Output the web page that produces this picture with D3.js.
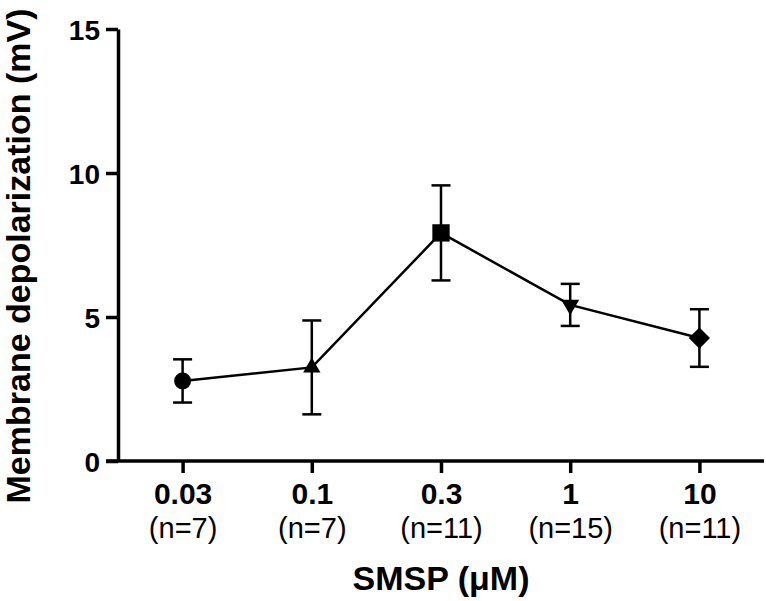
<!DOCTYPE html>
<html>
<head>
<meta charset="utf-8">
<script src="https://cdn.jsdelivr.net/npm/d3@7"></script>
<style>
  body { margin: 0; background: #fff; }
  svg { display: block; font-family: "Liberation Sans", Arial, Helvetica, sans-serif; }
</style>
</head>
<body>
<svg width="766" height="601"></svg>
<script>
// Data
var doses = ['0.03', '0.1', '0.3', '1', '10'];
var n_labels = ['(n=7)', '(n=7)', '(n=11)', '(n=15)', '(n=11)'];
var means = [2.78, 3.25, 7.92, 5.42, 4.27];
var sems = [0.75, 1.63, 1.65, 0.73, 1.0];
var shapes = ['circle', 'triangle', 'square', 'down', 'diamond'];
var y_ticks = [0, 5, 10, 15];

var points = doses.map((d, i) => ({dose: d, n: n_labels[i], mean: means[i], sem: sems[i], shape: shapes[i]}));

var svg = d3.select('svg');

var x = d3.scalePoint().domain(doses).range([118, 764]).padding(0.5);
var y = d3.scaleLinear().domain([0, 15]).range([461, 29]);

// y axis
var gy = svg.append('g')
  .attr('transform', 'translate(118,0)')
  .call(d3.axisLeft(y).tickValues(y_ticks).tickSize(12).tickSizeOuter(0).tickPadding(6));
gy.select('.domain').attr('stroke-width', 3.5);
gy.selectAll('.tick line').attr('stroke-width', 3.5);
gy.selectAll('.tick text')
  .attr('font-size', '28px')
  .attr('font-weight', 'bold')
  .attr('font-family', '"Liberation Sans", Arial, sans-serif')
  .attr('fill', '#000')
  .attr('dy', '0.36em');

// x axis
var gx = svg.append('g')
  .attr('transform', 'translate(0,461)')
  .call(d3.axisBottom(x).tickSize(12).tickSizeOuter(0));
gx.select('.domain').attr('stroke-width', 3.5).attr('d', 'M106,0H764');
gx.selectAll('.tick line').attr('stroke-width', 3.5);
gx.selectAll('.tick text').remove();
gx.selectAll('.tick').append('text')
  .attr('y', 43)
  .attr('text-anchor', 'middle')
  .attr('font-size', '30px')
  .attr('font-weight', 'bold')
  .attr('font-family', '"Liberation Sans", Arial, sans-serif')
  .attr('fill', '#000')
  .text(d => d);
gx.selectAll('.tick').append('text')
  .attr('y', 77)
  .attr('text-anchor', 'middle')
  .attr('font-size', '29px')
  .attr('font-family', '"Liberation Sans", Arial, sans-serif')
  .attr('fill', '#000')
  .text((d, i) => n_labels[i]);

// axis titles
svg.append('text')
  .attr('x', 441).attr('y', 590)
  .attr('text-anchor', 'middle')
  .attr('font-size', '34px')
  .attr('font-weight', 'bold')
  .text('SMSP (\u03BCM)');

svg.append('text')
  .attr('transform', 'translate(30,256) rotate(-90)')
  .attr('text-anchor', 'middle')
  .attr('font-size', '34px')
  .attr('font-weight', 'bold')
  .text('Membrane depolarization (mV)');

// connecting line
svg.append('path')
  .datum(points)
  .attr('fill', 'none')
  .attr('stroke', '#000')
  .attr('stroke-width', 2.5)
  .attr('d', d3.line().x(d => x(d.dose)).y(d => y(d.mean)));

// error bars
var eb = svg.append('g').attr('stroke', '#000').attr('stroke-width', 2.5);
eb.selectAll('.v').data(points).enter().append('line')
  .attr('x1', d => x(d.dose)).attr('x2', d => x(d.dose))
  .attr('y1', d => y(d.mean + d.sem)).attr('y2', d => y(d.mean - d.sem));
eb.selectAll('.t').data(points).enter().append('line')
  .attr('x1', d => x(d.dose) - 9.5).attr('x2', d => x(d.dose) + 9.5)
  .attr('y1', d => y(d.mean + d.sem)).attr('y2', d => y(d.mean + d.sem));
eb.selectAll('.b').data(points).enter().append('line')
  .attr('x1', d => x(d.dose) - 9.5).attr('x2', d => x(d.dose) + 9.5)
  .attr('y1', d => y(d.mean - d.sem)).attr('y2', d => y(d.mean - d.sem));

// markers
var sym = {
  circle: d3.symbol().type(d3.symbolCircle).size(227)(),
  triangle: d3.symbol().type(d3.symbolTriangle).size(130)(),
  square: d3.symbol().type(d3.symbolSquare).size(300)(),
  down: d3.symbol().type(d3.symbolTriangle).size(140)(),
  diamond: d3.symbol().type(d3.symbolSquare).size(225)()
};
var rot = {circle: 0, triangle: 0, square: 0, down: 180, diamond: 45};

svg.selectAll('.marker').data(points).enter().append('path')
  .attr('class', 'marker')
  .attr('d', d => sym[d.shape])
  .attr('transform', d => 'translate(' + x(d.dose) + ',' + y(d.mean) + ') rotate(' + rot[d.shape] + ')')
  .attr('fill', '#000');
</script>
</body>
</html>
